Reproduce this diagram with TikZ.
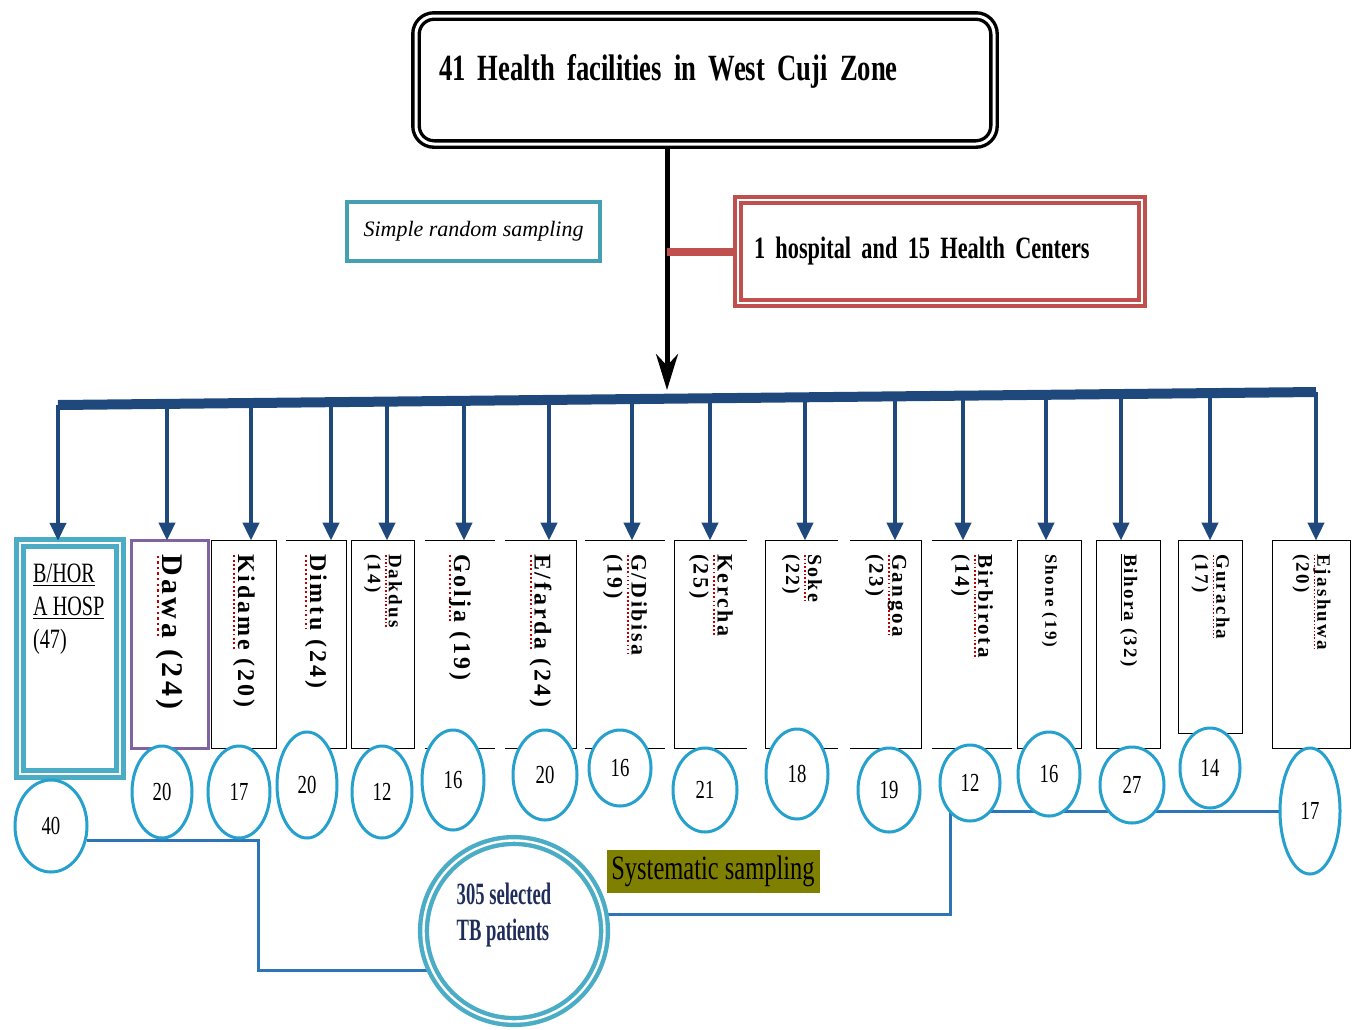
\documentclass[tikz,border=0pt]{standalone}
\usepackage{fontspec}
\setmainfont{Liberation Serif}
\newfontfamily\condfont[FakeStretch=0.72]{Liberation Serif}
\newfontfamily\narrowfont[FakeStretch=0.6]{Liberation Serif}
\newfontfamily\lblfont[LetterSpace=12]{Liberation Serif}
\usepackage{tikz}
\usetikzlibrary{positioning,arrows.meta,shapes.geometric,backgrounds}
\definecolor{barblue}{RGB}{31,73,125}
\definecolor{linkblue}{RGB}{46,117,182}
\definecolor{ovalblue}{RGB}{38,160,205}
\definecolor{hteal}{RGB}{75,172,198}
\definecolor{srsteal}{RGB}{70,160,180}
\definecolor{hred}{RGB}{192,80,77}
\definecolor{dawapurple}{RGB}{128,100,162}
\definecolor{olivebg}{RGB}{128,128,0}
\definecolor{spellred}{RGB}{192,0,0}
\definecolor{navy}{RGB}{31,45,90}
\newcommand{\spell}[1]{\setbox0\hbox{#1}\rlap{\hbox to \wd0{\color{spellred}%
  \xleaders\hbox to 0.18em{\hss\rule[-0.45ex]{0.08em}{0.08em}\hss}\hfill}}\box0\relax}

\begin{document}
\begin{tikzpicture}[x=0.5pt, y=-0.5pt,
  headbox/.style={draw=black, double=white, line width=1.7pt, double distance=1.5pt,
                  rounded corners=9pt, minimum width=289pt, minimum height=64pt,
                  text width=266pt, align=left,
                  font=\condfont\bfseries\fontsize{18.5}{20}\selectfont},
  hcbox/.style={draw=hred, double=white, line width=1.8pt, double distance=1.4pt,
                minimum width=202pt, minimum height=51.5pt, text width=186pt, align=left,
                font=\condfont\bfseries\fontsize{15.5}{18}\selectfont},
  srsbox/.style={draw=srsteal, line width=2pt, minimum width=126.5pt, minimum height=29.5pt,
                 font=\itshape\fontsize{11}{13}\selectfont},
  hospbox/.style={draw=hteal, double=white, line width=2.2pt, double distance=1.4pt,
                  minimum width=50pt, minimum height=115.5pt},
  cell/.style={inner sep=0pt},
  edge/.style={draw=black, line width=0.8pt},
  lbl/.style={rotate=-90, anchor=west, align=left, inner sep=0pt},
  oval/.style={ellipse, draw=ovalblue, line width=1.5pt, fill=white, inner sep=0pt,
               font=\condfont\fontsize{13}{15}\selectfont},
  ring/.style={circle, draw=hteal, double=white, line width=2.2pt, double distance=1.2pt,
               minimum size=90.5pt, inner sep=0pt},
  mainarrow/.style={-{Stealth[width=11pt,length=18pt]}, line width=2.5pt, draw=black},
  hclink/.style={line width=4pt, draw=hred},
  drop/.style={-{Triangle[width=8pt,length=9pt]}, line width=2pt, draw=barblue},
  bar/.style={line width=5pt, draw=barblue},
  link/.style={line width=1.5pt, draw=linkblue},
  sysbox/.style={fill=olivebg, minimum width=106.5pt, minimum height=21.5pt, inner sep=1pt,
                 font=\condfont\fontsize{17}{19}\selectfont}]
\useasboundingbox (0,0) rectangle (1359,1029);

% top of the tree
\node[headbox] (title) at (705,80) {\raisebox{13pt}{41 Health facilities in  West Cuji Zone}};
\node[srsbox] (srs) at (473.5,231.5) {Simple random sampling};
\node[hcbox] (hc) at (940,251.5) {1 hospital  and 15 Health Centers};
\coordinate (hub) at (667,390);
\draw[mainarrow] (title.south -| hub) -- (hub);
\draw[hclink] (hub |- hc.west) -- (hc.west);

% facilities
\node[hospbox] (b1) at (70,658.5) {};
\node[anchor=north west, align=left, inner sep=0pt,
      font=\condfont\fontsize{14}{16.5}\selectfont] (hosplbl)
  at ([shift={(7.5pt,-11.5pt)}]b1.north west) {\underline{B/HOR}\\\underline{A HOSP}\\(47)};

\foreach \n/\xl/\xr/\yb/\fs/\bs/\txt in {
  2/132/208/748/15/16/{\spell{Dawa} (24)},
  3/212/276/748/12/13/{\spell{Kidame} (20)},
  4/286/346/748/12/13/{\spell{Dimtu} (24)},
  5/352/414/748/9.5/10.5/{\spell{Dakdus}\\(14)},
  6/425/495/748/12/13/{\spell{Golja} (19)},
  7/505/576/748/12/13/{\spell{E/farda} (24)},
  8/585/665/748/11/12/{\spell{G/Dibisa}\\(19)},
  9/675/747/748/11/12/{\spell{Kercha}\\(25)},
  10/766/838/748/10/11/{\spell{Soke}\\(22)},
  11/850/921/748/10.5/11.5/{\spell{Gangoa}\\(23)},
  12/932/1012/748/10.5/11.5/{\spell{Birbirota}\\(14)},
  13/1018/1081/748/8.5/9.5/{Shone (19)},
  14/1097/1160/748/9.5/10.5/{\underline{Bihora} (32)},
  15/1179/1242/733/9.5/10.5/{\spell{Guracha}\\(17)},
  16/1273/1350/748/9.5/10.5/{\spell{Ejashuwa}\\(20)}} {
  \node[cell, minimum width={(\xr-\xl)*0.5pt}, minimum height={(\yb-541)*0.5pt}]
    (b\n) at ({(\xl+\xr)/2},{(541+\yb)/2}) {};
  \node[lbl, font=\lblfont\bfseries\fontsize{\fs}{\bs}\selectfont] (l\n)
    at ([yshift=-6.5pt]b\n.north) {\txt};
}

% box outlines
\draw[edge, draw=dawapurple, line width=1.5pt] (b2.north west) rectangle (b2.south east);
\foreach \b in {b3,b5,b13,b14,b15,b16}
  \draw[edge] (\b.north west) rectangle (\b.south east);
\foreach \b in {b4,b7,b11}
  \draw[edge] (\b.north west) -- (\b.north east) -- (\b.south east) -- (\b.south west);
\foreach \b in {b9,b10}
  \draw[edge] (\b.north east) -- (\b.north west) -- (\b.south west) -- (\b.south east);
\foreach \b in {b6,b8,b12} {
  \draw[edge] (\b.north west) -- (\b.north east);
  \draw[edge] (\b.south west) -- (\b.south east);
}

% distribution bar
\foreach \n/\ax in {1/58,2/167,3/251,4/331,5/387,6/464,7/549,8/632,
                    9/710,10/805,11/895,12/963,13/1046,14/1121,15/1210,16/1316}
  \coordinate (t\n) at (\ax,{405-0.01033*(\ax-58)});
\draw[bar] (t1) -- (t16);
\foreach \n in {1,...,16}
  \draw[drop] (t\n) -- (t\n |- b\n.north);

% sample sizes
\foreach \n/\v/\cx/\cy/\rx/\ry in {
  1/40/51/826/36/46, 2/20/162/792/30/46, 3/17/239/792/31/46, 4/20/307/785/30/53,
  5/12/382/792/30/46, 6/16/453/780/31/50, 7/20/545/775/32/45, 8/16/620/768/31/38,
  9/21/705/790/32/42, 10/18/797/774/31/45, 11/19/889/790/31/42, 12/12/970/783/30/38,
  13/16/1049/774/31/42, 14/27/1132/785/32/38, 15/14/1210/768/30/40, 16/17/1310/811/30/63}
  \node[oval, minimum width={\rx*1pt}, minimum height={\ry*1pt}] (c\n) at (\cx,\cy) {\v};

\node[ring] (ring) at (514,931) {};
\node[align=left, inner sep=0pt, text=navy,
      font=\narrowfont\bfseries\fontsize{15.5}{18}\selectfont] (tbtxt)
  at ([shift={(-5pt,8pt)}]ring.center) {305 selected\\TB patients};
\node[sysbox] (sys) at (713,871) {Systematic sampling};

\coordinate (jl) at (258,900);
\coordinate (jr) at (950,860);
\begin{scope}[on background layer]
  \draw[link] (c1.-22) -| (jl) |- (ring.205);
  \draw[link] (c16.west) -| (jr) |- (ring.10);
\end{scope}
\end{tikzpicture}
\end{document}
